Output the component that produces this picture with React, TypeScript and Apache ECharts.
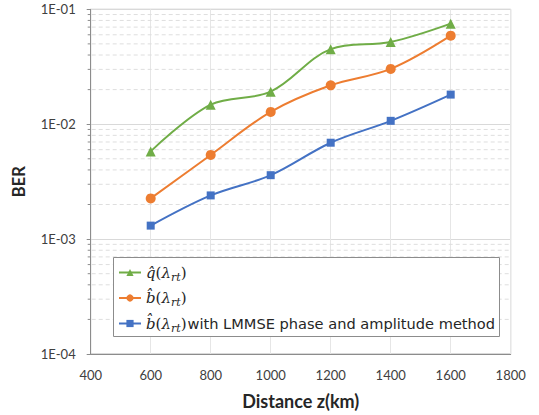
import React, { useEffect, useRef } from "react";
import * as echarts from "echarts";

const distances = [600, 800, 1000, 1200, 1400, 1600];
const qHat = [5.8e-3, 1.48e-2, 1.92e-2, 4.5e-2, 5.2e-2, 7.5e-2];
const bHat = [2.26e-3, 5.4e-3, 1.28e-2, 2.18e-2, 3.03e-2, 5.9e-2];
const bHatLmmse = [1.31e-3, 2.4e-3, 3.6e-3, 6.9e-3, 1.07e-2, 1.81e-2];
const yTickLabels: Record<string, string> = { "-4": "1E-04", "-3": "1E-03", "-2": "1E-02", "-1": "1E-01" };
const minorGridValues = [
  2e-4, 3e-4, 4e-4, 5e-4, 6e-4, 7e-4, 8e-4, 9e-4,
  2e-3, 3e-3, 4e-3, 5e-3, 6e-3, 7e-3, 8e-3, 9e-3,
  2e-2, 3e-2, 4e-2, 5e-2, 6e-2, 7e-2, 8e-2, 9e-2,
];
const seriesNames = ["qhat", "bhat", "bhatlmmse"];

const GREEN = "#70AD47";
const ORANGE = "#ED7D31";
const BLUE = "#4472C4";

export default function App() {
  const ref = useRef<HTMLDivElement>(null);
  useEffect(() => {
    if (!ref.current) return;
    const chart = echarts.init(ref.current, null, { renderer: "svg" });
    const mathFont = "DejaVu Serif";
    const rich = {
      m: { fontFamily: mathFont, fontStyle: "italic", fontSize: 15, color: "#262626", lineHeight: 20 },
      p: { fontFamily: mathFont, fontSize: 15, color: "#262626", lineHeight: 20 },
      s: { fontFamily: mathFont, fontStyle: "italic", fontSize: 11, color: "#262626", lineHeight: 12, verticalAlign: "bottom" },
      t: { fontFamily: "DejaVu Sans", fontSize: 14.6, color: "#262626", lineHeight: 20, padding: [0, 0, 0, 1] },
    };
    const legendText: Record<string, string> = {
      qhat: "{m|q\u0302}{p|(}{m|λ}{s|rt}{p|)}",
      bhat: "{m|b\u0302}{p|(}{m|λ}{s|rt}{p|)}",
      bhatlmmse: "{m|b\u0302}{p|(}{m|λ}{s|rt}{p|)}{t|with LMMSE phase and amplitude method}",
    };
    const mk = (name: string, data: number[], color: string, symbol: string, size: number) => ({
      name,
      type: "line",
      smooth: 0.35,
      data: distances.map((d, i) => [d, data[i]]),
      symbol,
      symbolSize: size,
      z: 5,
      lineStyle: { color, width: 2 },
      itemStyle: { color },
    });
    chart.setOption({
      animation: false,
      backgroundColor: "#ffffff",
      grid: {
        left: 90.7,
        right: 28.3,
        top: 9.3,
        bottom: 56.7,
        show: true,
        borderColor: "#b3b3b3",
        borderWidth: 1,
      },
      xAxis: {
        type: "value",
        min: 400,
        max: 1800,
        interval: 200,
        name: "Distance z(km)",
        nameLocation: "middle",
        nameGap: 38,
        nameTextStyle: { fontFamily: "Lato", fontWeight: "bold", fontSize: 18, color: "#262626" },
        axisLine: { lineStyle: { color: "#8c8c8c" } },
        axisTick: { show: false },
        axisLabel: { fontFamily: "Lato", fontSize: 13, color: "#404040", margin: 14, formatter: (v: number) => String(v) },
        splitLine: { show: true, lineStyle: { color: "#e6e6e6", width: 1 } },
      },
      yAxis: {
        type: "log",
        logBase: 10,
        min: 1e-4,
        max: 1e-1,
        name: "BER",
        nameLocation: "middle",
        nameGap: 63,
        nameTextStyle: { fontFamily: "Lato", fontWeight: "bold", fontSize: 16.5, color: "#262626" },
        axisLine: { show: true, lineStyle: { color: "#8c8c8c" } },
        axisTick: { show: true, length: 4, lineStyle: { color: "#8c8c8c" } },
        axisLabel: {
          fontFamily: "Lato",
          fontSize: 13,
          color: "#404040",
          margin: 15,
          formatter: (v: number) => yTickLabels[String(Math.round(Math.log10(v)))] ?? "",
        },
        splitLine: { show: true, lineStyle: { color: "#d9d9d9", width: 1 } },
      },
      legend: {
        data: seriesNames,
        orient: "vertical",
        left: 118,
        top: 265,
        itemWidth: 22,
        itemHeight: 9,
        itemGap: 8,
        padding: 0,
        z: 10,
        formatter: (name: string) => legendText[name],
        textStyle: { rich },
      },
      graphic: [
        {
          type: "rect",
          z: 8,
          shape: { x: 113.5, y: 257.5, width: 386, height: 79 },
          style: { fill: "#ffffff", stroke: "#8c8c8c", lineWidth: 1 },
        },
      ],
      series: [
        {
          name: "minorgrid",
          type: "custom",
          silent: true,
          z: 1,
          clip: false,
          data: minorGridValues.map((v) => [400, v]),
          renderItem: (_params: any, api: any) => {
            const v = api.value(1);
            const p1 = api.coord([400, v]);
            const p2 = api.coord([1800, v]);
            return {
              type: "group",
              children: [
                {
                  type: "line",
                  shape: { x1: p1[0] + 1, y1: p1[1], x2: p2[0] - 1, y2: p2[1] },
                  style: { stroke: "#dedede", lineWidth: 1, lineDash: [4, 3] },
                },
                {
                  type: "line",
                  shape: { x1: p1[0] - 3, y1: p1[1], x2: p1[0], y2: p1[1] },
                  style: { stroke: "#8c8c8c", lineWidth: 1 },
                },
              ],
            };
          },
        },
        mk("qhat", qHat, GREEN, "triangle", 10),
        mk("bhat", bHat, ORANGE, "circle", 10),
        mk("bhatlmmse", bHatLmmse, BLUE, "rect", 8),
      ],
    });
    return () => chart.dispose();
  }, []);
  return <div ref={ref} style={{ width: 539, height: 415, position: "absolute", left: 0, top: 0 }} />;
}
